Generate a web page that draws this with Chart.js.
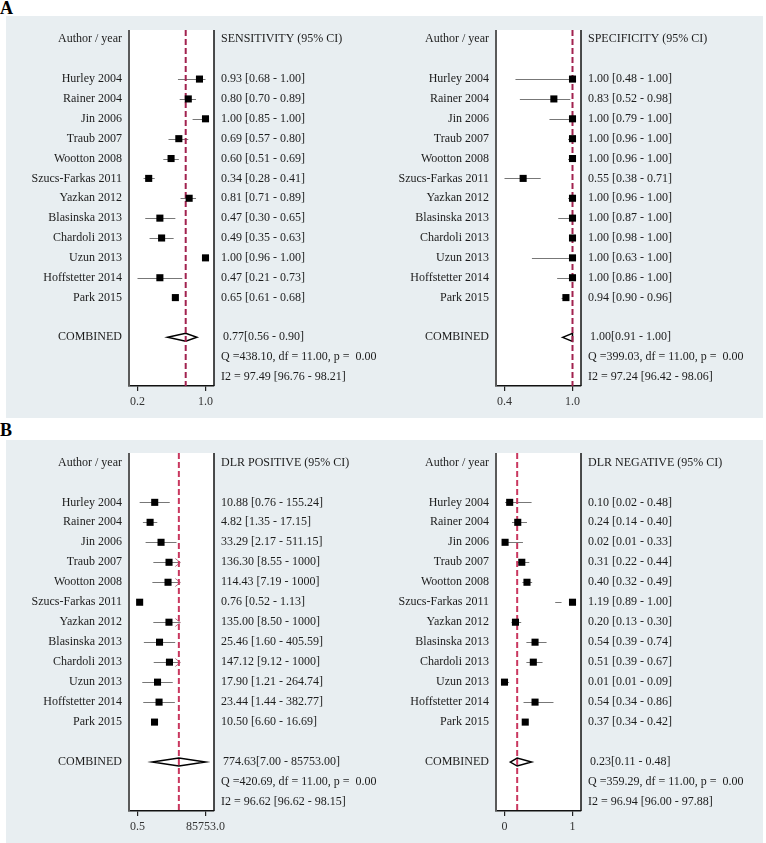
<!DOCTYPE html>
<html>
<head>
<meta charset="utf-8">
<script src="https://cdn.jsdelivr.net/npm/chart.js@4.4.1/dist/chart.umd.min.js"></script>
<style>
  body { margin:0; background:#fff; }
  #wrap { position:relative; width:766px; height:843px; overflow:hidden; }
  .bg { position:absolute; background:#e8eef1; }
  .lab { position:absolute; left:0; font:bold 18px "Liberation Serif", serif; color:#000; }
  canvas { position:absolute; }
</style>
</head>
<body>
<div id="wrap">
  <div class="lab" style="top:-2px">A</div>
  <div class="bg" style="left:6px;top:16px;width:757px;height:402px"></div>
  <div class="lab" style="top:420px">B</div>
  <div class="bg" style="left:6px;top:440px;width:757px;height:403px"></div>
  <canvas id="sens" width="383" height="402" style="left:0;top:16px"></canvas>
  <canvas id="spec" width="383" height="402" style="left:383px;top:16px"></canvas>
  <canvas id="dlrp" width="383" height="403" style="left:0;top:440px"></canvas>
  <canvas id="dlrn" width="383" height="403" style="left:383px;top:440px"></canvas>
</div>
<script>
var studies = ["Hurley 2004","Rainer 2004","Jin 2006","Traub 2007","Wootton 2008","Szucs-Farkas 2011",
               "Yazkan 2012","Blasinska 2013","Chardoli 2013","Uzun 2013","Hoffstetter 2014","Park 2015"];

// sensitivity
var sensEst = [0.93,0.80,1.00,0.69,0.60,0.34,0.81,0.47,0.49,1.00,0.47,0.65];
var sensLo  = [0.68,0.70,0.85,0.57,0.51,0.28,0.71,0.30,0.35,0.96,0.21,0.61];
var sensHi  = [1.00,0.89,1.00,0.80,0.69,0.41,0.89,0.65,0.63,1.00,0.73,0.68];
var sensComb = [0.77,0.56,0.90];
var sensTicks = [0.21,1.00], sensTickLabels = ["0.2","1.0"];

// specificity
var specEst = [1.00,0.83,1.00,1.00,1.00,0.55,1.00,1.00,1.00,1.00,1.00,0.94];
var specLo  = [0.48,0.52,0.79,0.96,0.96,0.38,0.96,0.87,0.98,0.63,0.86,0.90];
var specHi  = [1.00,0.98,1.00,1.00,1.00,0.71,1.00,1.00,1.00,1.00,1.00,0.96];
var specComb = [1.00,0.91,1.00];
var specTicks = [0.38,1.00], specTickLabels = ["0.4","1.0"];

// DLR positive
var dlrpEst = [10.88,4.82,33.29,136.30,114.43,0.76,135.00,25.46,147.12,17.90,23.44,10.50];
var dlrpLo  = [0.76,1.35,2.17,8.55,7.19,0.52,8.50,1.60,9.12,1.21,1.44,6.60];
var dlrpHi  = [155.24,17.15,511.15,1000,1000,1.13,1000,405.59,1000,264.74,382.77,16.69];
var dlrpComb = [774.63,7.00,85753.00];
var dlrpTicks = [0.52,85753.0], dlrpTickLabels = ["0.5","85753.0"];

// DLR negative
var dlrnEst = [0.10,0.24,0.02,0.31,0.40,1.19,0.20,0.54,0.51,0.01,0.54,0.37];
var dlrnLo  = [0.02,0.14,0.01,0.22,0.32,0.89,0.13,0.39,0.39,0.01,0.34,0.34];
var dlrnHi  = [0.48,0.40,0.33,0.44,0.49,1.00,0.30,0.74,0.67,0.09,0.86,0.42];
var dlrnComb = [0.23,0.11,0.48];
var dlrnTicks = [0.01,1.19], dlrnTickLabels = ["0","1"];

var FONT = '12px "Liberation Serif", serif';

function fmt(v) { return (v >= 1000 && v % 1 === 0 && v < 10000) ? String(v) : v.toFixed(2); }

function forest(id, o) {
  var n = studies.length;
  var lo = o.ticks[0], hi = o.ticks[1], mn, mx;
  if (o.log) {
    var a = Math.log10(lo), b = Math.log10(hi), p = 0.125 * (b - a);
    mn = Math.pow(10, a - p); mx = Math.pow(10, b + p);
  } else {
    var p2 = 0.125 * (hi - lo);
    mn = lo - p2; mx = hi + p2;
  }

  var plug = {
    id: 'forest',
    beforeDraw: function(c) {
      var a = c.chartArea, ctx = c.ctx;
      ctx.save();
      ctx.fillStyle = '#fff';
      ctx.fillRect(a.left, a.top, a.right - a.left, a.bottom - a.top);
      ctx.restore();
    },
    beforeDatasetsDraw: function(c) {
      var a = c.chartArea, ctx = c.ctx, x = c.scales.x, y = c.scales.y;
      ctx.save();
      // CI lines
      ctx.strokeStyle = '#777'; ctx.lineWidth = 1;
      for (var i = 0; i < n; i++) {
        var py = Math.round(y.getPixelForValue(i + 2)) + 0.5;
        var x1 = x.getPixelForValue(o.lo[i]), x2 = x.getPixelForValue(o.hi[i]);
        ctx.beginPath(); ctx.moveTo(x1, py); ctx.lineTo(x2, py); ctx.stroke();
        if (o.cap && o.hi[i] >= o.cap) {
          ctx.save(); ctx.strokeStyle = '#b9788c';
          ctx.beginPath(); ctx.moveTo(x2 - 5, py - 4); ctx.lineTo(x2, py); ctx.lineTo(x2 - 5, py + 4); ctx.stroke();
          ctx.restore();
        }
      }
      // combined diamond
      var cy = y.getPixelForValue(n + 3), h = 4;
      ctx.strokeStyle = '#000'; ctx.lineWidth = 1.5;
      ctx.beginPath();
      ctx.moveTo(x.getPixelForValue(o.comb[1]), cy);
      ctx.lineTo(x.getPixelForValue(o.comb[0]), cy - h);
      ctx.lineTo(x.getPixelForValue(o.comb[2]), cy);
      ctx.lineTo(x.getPixelForValue(o.comb[0]), cy + h);
      ctx.closePath(); ctx.stroke();
      // pooled estimate line
      var rx = x.getPixelForValue(o.comb[0]);
      ctx.strokeStyle = o.red; ctx.lineWidth = 2; ctx.setLineDash([6, 3]);
      ctx.beginPath(); ctx.moveTo(rx, a.top); ctx.lineTo(rx, a.bottom); ctx.stroke();
      ctx.setLineDash([]);
      // side borders
      ctx.strokeStyle = '#5a5a5a'; ctx.lineWidth = 2;
      ctx.beginPath(); ctx.moveTo(a.left, a.top); ctx.lineTo(a.left, a.bottom); ctx.stroke();
      ctx.strokeStyle = '#111'; ctx.lineWidth = 1.5;
      ctx.beginPath(); ctx.moveTo(a.right, a.top); ctx.lineTo(a.right, a.bottom); ctx.stroke();
      ctx.restore();
    },
    afterDraw: function(c) {
      var a = c.chartArea, ctx = c.ctx, y = c.scales.y;
      ctx.save();
      ctx.font = FONT; ctx.fillStyle = '#1c1c1c'; ctx.textBaseline = 'middle';
      var lx = a.left - 7, tx = a.right + 7;
      ctx.textAlign = 'right';
      ctx.fillText('Author / year', lx, y.getPixelForValue(0));
      for (var i = 0; i < n; i++) ctx.fillText(studies[i], lx, y.getPixelForValue(i + 2));
      ctx.fillText('COMBINED', lx, y.getPixelForValue(n + 3));
      ctx.textAlign = 'left';
      ctx.fillText(o.header, tx, y.getPixelForValue(0));
      for (var j = 0; j < n; j++)
        ctx.fillText(o.est[j].toFixed(2) + ' [' + fmt(o.lo[j]) + ' - ' + fmt(o.hi[j]) + ']', tx, y.getPixelForValue(j + 2));
      ctx.fillText(o.comb[0].toFixed(2) + '[' + o.comb[1].toFixed(2) + ' - ' + o.comb[2].toFixed(2) + ']', tx + 2, y.getPixelForValue(n + 3));
      ctx.fillText(o.q, tx, y.getPixelForValue(n + 4));
      ctx.fillText(o.i2, tx, y.getPixelForValue(n + 5));
      ctx.restore();
    }
  };

  return new Chart(document.getElementById(id), {
    type: 'scatter',
    data: {
      datasets: [{
        data: o.est.map(function(v, i) { return { x: v, y: i + 2 }; }),
        pointStyle: 'rect', pointRadius: 5, pointHoverRadius: 5,
        backgroundColor: '#000', borderColor: '#000', borderWidth: 0, clip: false
      }]
    },
    options: {
      responsive: false, animation: false, events: [],
      layout: { padding: { left: o.pad[0], right: o.pad[1], top: o.pad[2], bottom: 0 } },
      plugins: { legend: { display: false }, tooltip: { enabled: false } },
      scales: {
        x: {
          type: o.log ? 'logarithmic' : 'linear', min: mn, max: mx,
          afterBuildTicks: function(s) { s.ticks = o.ticks.map(function(v) { return { value: v }; }); },
          afterFit: function(s) { s.height = 32; },
          ticks: {
            autoSkip: false, maxRotation: 0, padding: 4, color: '#333', font: { family: '"Liberation Serif", serif', size: 12 },
            callback: function(v) { var k = o.ticks.indexOf(v); return k >= 0 ? o.tickLabels[k] : ''; }
          },
          grid: { drawOnChartArea: false, drawTicks: true, tickLength: 5, color: '#222', lineWidth: 1.2 },
          border: { display: true, color: '#111', width: 1.5 }
        },
        y: { type: 'linear', min: -0.47, max: 17.45, reverse: true, display: false }
      }
    },
    plugins: [plug]
  });
}

forest('sens', { est: sensEst, lo: sensLo, hi: sensHi, comb: sensComb, ticks: sensTicks, tickLabels: sensTickLabels,
  header: 'SENSITIVITY (95% CI)', q: 'Q =438.10, df = 11.00, p =  0.00', i2: 'I2 = 97.49 [96.76 - 98.21]',
  red: '#a2224f', pad: [129, 169, 14] });
forest('spec', { est: specEst, lo: specLo, hi: specHi, comb: specComb, ticks: specTicks, tickLabels: specTickLabels,
  header: 'SPECIFICITY (95% CI)', q: 'Q =399.03, df = 11.00, p =  0.00', i2: 'I2 = 97.24 [96.42 - 98.06]',
  red: '#a2224f', pad: [113, 185, 14] });
forest('dlrp', { est: dlrpEst, lo: dlrpLo, hi: dlrpHi, comb: dlrpComb, ticks: dlrpTicks, tickLabels: dlrpTickLabels, log: true, cap: 1000,
  header: 'DLR POSITIVE (95% CI)', q: 'Q =420.69, df = 11.00, p =  0.00', i2: 'I2 = 96.62 [96.62 - 98.15]',
  red: '#c9375f', pad: [129, 169, 13] });
forest('dlrn', { est: dlrnEst, lo: dlrnLo, hi: dlrnHi, comb: dlrnComb, ticks: dlrnTicks, tickLabels: dlrnTickLabels,
  header: 'DLR NEGATIVE (95% CI)', q: 'Q =359.29, df = 11.00, p =  0.00', i2: 'I2 = 96.94 [96.00 - 97.88]',
  red: '#c9375f', pad: [113, 185, 13] });
</script>
</body>
</html>
